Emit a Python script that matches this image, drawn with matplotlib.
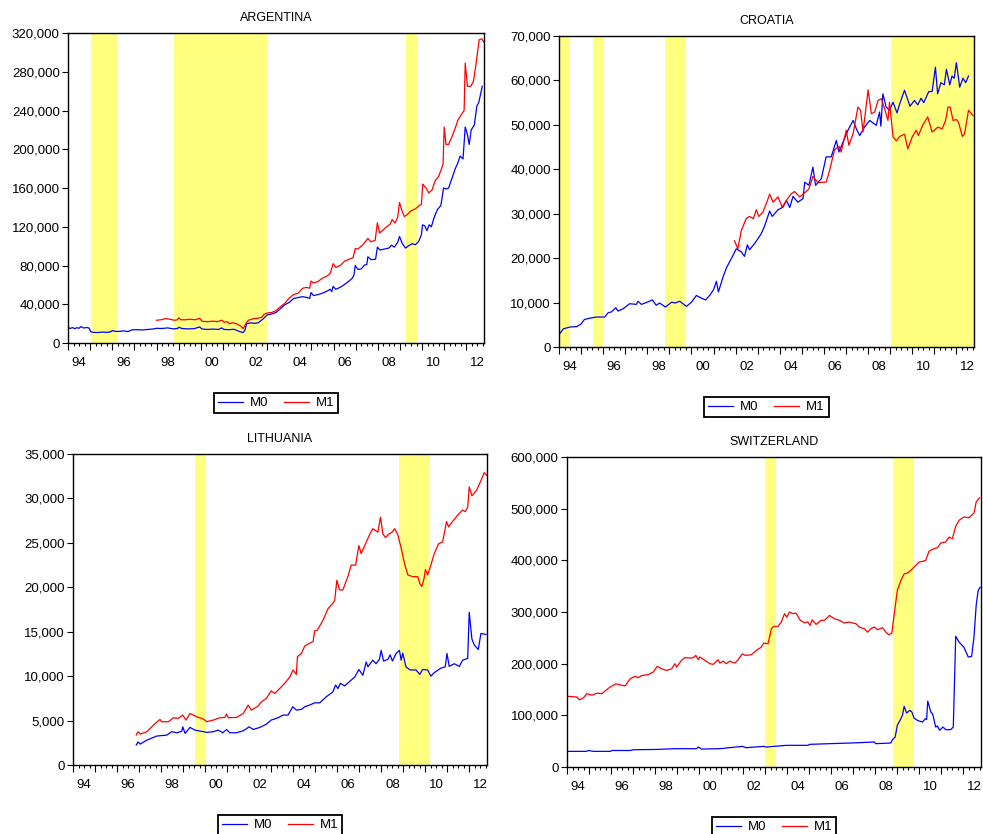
import numpy as np
import matplotlib.pyplot as plt
from matplotlib.ticker import FuncFormatter, MultipleLocator

plt.rcParams['font.family'] = ['Liberation Sans', 'DejaVu Sans']

# values in thousands, (year, value)
arg_m0 = [(1994.00, 16.0), (1994.10, 15.0), (1994.20, 16.0), (1994.30, 14.8), (1994.40, 15.8), (1994.50, 15.2),
          (1994.58, 17.0), (1994.70, 15.5), (1994.85, 16.0), (1994.95, 15.5), (1995.03, 11.5), (1995.15, 11.0),
          (1995.35, 10.8), (1995.55, 11.3), (1995.75, 11.0), (1995.92, 11.5), (1996.00, 12.8), (1996.15, 12.0),
          (1996.35, 12.0), (1996.50, 12.6), (1996.70, 11.8), (1996.90, 13.6), (1997.10, 13.8), (1997.35, 13.5),
          (1997.60, 14.0), (1997.85, 14.5), (1998.00, 15.2), (1998.25, 15.0), (1998.50, 15.6), (1998.75, 14.6),
          (1998.95, 15.0), (1999.00, 16.2), (1999.15, 15.0), (1999.40, 14.6), (1999.70, 14.8), (1999.95, 16.6),
          (2000.05, 14.5), (2000.30, 14.0), (2000.55, 14.4), (2000.80, 14.0), (2000.95, 15.6), (2001.05, 14.0),
          (2001.30, 13.8), (2001.50, 14.2), (2001.65, 12.8), (2001.80, 11.5), (2001.92, 10.8), (2002.00, 13.5),
          (2002.07, 20.0), (2002.25, 20.8), (2002.45, 20.3), (2002.60, 21.0), (2002.80, 24.5), (2003.00, 29.0),
          (2003.20, 30.0), (2003.40, 31.5), (2003.60, 35.5), (2003.80, 39.5), (2004.00, 42.0), (2004.20, 46.0),
          (2004.40, 47.0), (2004.60, 47.8), (2004.80, 47.0), (2004.92, 46.0), (2004.98, 52.0), (2005.10, 49.0),
          (2005.30, 50.0), (2005.50, 51.5), (2005.70, 53.5), (2005.85, 55.5), (2005.92, 53.0), (2005.98, 58.5),
          (2006.10, 55.5), (2006.30, 57.5), (2006.50, 60.5), (2006.70, 64.0), (2006.85, 67.0), (2006.92, 70.0),
          (2006.98, 80.0), (2007.10, 76.0), (2007.25, 76.5), (2007.40, 80.5), (2007.50, 81.0), (2007.55, 89.0),
          (2007.70, 86.0), (2007.90, 86.5), (2007.98, 99.0), (2008.10, 96.0), (2008.30, 97.0), (2008.50, 98.0),
          (2008.62, 101.0), (2008.75, 99.0), (2008.90, 104.0), (2008.98, 110.0), (2009.10, 103.0), (2009.25, 98.0),
          (2009.40, 100.5), (2009.55, 102.5), (2009.70, 101.5), (2009.85, 105.0), (2009.97, 112.0), (2010.02, 122.0),
          (2010.12, 121.0), (2010.22, 116.0), (2010.32, 122.0), (2010.42, 120.0), (2010.55, 130.0), (2010.70, 138.0),
          (2010.85, 142.0), (2010.97, 160.0), (2011.10, 159.0), (2011.20, 160.0), (2011.35, 170.0), (2011.50, 180.0),
          (2011.60, 185.0), (2011.72, 193.0), (2011.85, 190.0), (2011.95, 223.0), (2012.05, 215.0), (2012.13, 205.0),
          (2012.22, 220.0), (2012.36, 225.0), (2012.48, 245.0), (2012.56, 248.0), (2012.72, 265.0)]
arg_m1 = [(1998.00, 23.5), (1998.20, 24.0), (1998.40, 25.2), (1998.60, 24.6), (1998.80, 23.5), (1998.95, 24.0),
          (1999.00, 26.0), (1999.10, 24.0), (1999.30, 24.0), (1999.50, 24.6), (1999.75, 24.0), (1999.95, 25.6),
          (2000.05, 22.5), (2000.30, 22.0), (2000.55, 22.6), (2000.75, 22.0), (2000.95, 23.6), (2001.05, 21.5),
          (2001.20, 22.0), (2001.30, 19.8), (2001.45, 21.0), (2001.65, 19.5), (2001.80, 17.5), (2001.92, 15.0),
          (2002.05, 20.5), (2002.15, 23.5), (2002.35, 25.0), (2002.55, 25.5), (2002.75, 26.5), (2002.85, 29.5),
          (2003.00, 31.0), (2003.20, 31.5), (2003.40, 33.5), (2003.60, 37.5), (2003.80, 41.0), (2004.00, 46.5),
          (2004.20, 50.0), (2004.40, 51.5), (2004.60, 56.5), (2004.78, 57.5), (2004.92, 56.5), (2004.98, 64.0),
          (2005.10, 62.0), (2005.30, 63.5), (2005.50, 67.0), (2005.70, 69.0), (2005.85, 72.0), (2005.98, 82.0),
          (2006.10, 78.0), (2006.30, 80.0), (2006.50, 84.5), (2006.70, 86.5), (2006.88, 88.0), (2006.98, 97.5),
          (2007.10, 97.0), (2007.30, 101.0), (2007.45, 105.0), (2007.55, 108.0), (2007.68, 104.5), (2007.88, 106.0),
          (2007.98, 124.0), (2008.08, 113.5), (2008.25, 117.0), (2008.40, 120.0), (2008.55, 122.5), (2008.65, 127.5),
          (2008.78, 124.0), (2008.90, 130.0), (2008.98, 145.0), (2009.10, 136.0), (2009.20, 130.5), (2009.35, 133.0),
          (2009.50, 136.5), (2009.70, 138.5), (2009.88, 142.0), (2009.97, 143.0), (2010.03, 164.0), (2010.18, 160.0),
          (2010.30, 155.0), (2010.45, 158.0), (2010.60, 168.0), (2010.75, 172.0), (2010.88, 180.0), (2010.95, 185.0),
          (2011.00, 223.0), (2011.08, 205.0), (2011.20, 205.0), (2011.35, 213.0), (2011.50, 222.0), (2011.62, 230.0),
          (2011.75, 235.0), (2011.90, 240.0), (2011.95, 289.0), (2012.05, 265.0), (2012.20, 265.0), (2012.32, 270.0),
          (2012.45, 290.0), (2012.58, 313.0), (2012.70, 314.0), (2012.78, 311.0)]

cro_m0 = [(1994.03, 3.0), (1994.20, 4.1), (1994.50, 4.5), (1994.80, 4.6), (1995.00, 5.2), (1995.15, 6.2),
          (1995.40, 6.5), (1995.70, 6.75), (1996.07, 6.75), (1996.22, 7.7), (1996.37, 7.9), (1996.57, 8.85),
          (1996.67, 8.1), (1996.90, 8.6), (1997.20, 9.75), (1997.50, 9.6), (1997.58, 10.3), (1997.73, 9.6),
          (1997.95, 10.0), (1998.23, 10.6), (1998.40, 9.4), (1998.56, 9.9), (1998.82, 9.0), (1999.10, 10.1),
          (1999.25, 9.9), (1999.47, 10.3), (1999.77, 9.15), (2000.00, 10.1), (2000.22, 11.6), (2000.45, 11.0),
          (2000.64, 10.6), (2000.82, 11.6), (2001.00, 12.9), (2001.13, 14.8), (2001.22, 12.4), (2001.43, 15.8),
          (2001.60, 18.0), (2001.88, 20.6), (2002.03, 22.1), (2002.26, 21.4), (2002.40, 20.4), (2002.53, 23.0),
          (2002.63, 21.9), (2002.86, 23.3), (2003.16, 25.5), (2003.31, 27.2), (2003.54, 30.6), (2003.66, 29.4),
          (2003.92, 30.9), (2004.15, 31.5), (2004.30, 33.0), (2004.45, 31.4), (2004.60, 33.9), (2004.82, 32.6),
          (2005.05, 33.4), (2005.13, 37.1), (2005.32, 36.4), (2005.50, 40.5), (2005.62, 36.4), (2005.88, 37.9),
          (2006.10, 42.8), (2006.33, 42.8), (2006.56, 46.5), (2006.68, 43.9), (2006.86, 46.1), (2007.09, 48.8),
          (2007.32, 51.0), (2007.47, 49.1), (2007.62, 47.6), (2007.84, 49.5), (2008.07, 51.0), (2008.37, 49.9),
          (2008.52, 52.9), (2008.58, 49.7), (2008.67, 57.0), (2008.82, 54.0), (2008.97, 53.3), (2009.13, 55.1),
          (2009.31, 52.7), (2009.45, 55.0), (2009.65, 57.8), (2009.90, 54.2), (2010.10, 55.5), (2010.25, 54.5),
          (2010.40, 56.0), (2010.52, 55.0), (2010.75, 57.5), (2010.90, 57.5), (2011.05, 63.0), (2011.15, 57.0),
          (2011.30, 59.5), (2011.45, 59.0), (2011.55, 62.5), (2011.70, 59.0), (2011.80, 61.0), (2011.90, 60.5),
          (2012.00, 64.0), (2012.15, 58.5), (2012.30, 60.5), (2012.42, 59.5), (2012.55, 61.0)]
cro_m1 = [(2001.95, 23.9), (2002.10, 22.1), (2002.26, 26.3), (2002.48, 28.9), (2002.62, 29.4), (2002.80, 28.9),
          (2002.94, 30.9), (2003.05, 29.4), (2003.24, 30.4), (2003.39, 32.3), (2003.54, 34.4), (2003.70, 32.6),
          (2003.92, 33.8), (2004.11, 31.5), (2004.30, 33.0), (2004.52, 34.5), (2004.67, 35.0), (2004.90, 33.8),
          (2005.13, 34.7), (2005.32, 35.6), (2005.50, 38.4), (2005.73, 37.0), (2005.96, 37.1), (2006.10, 37.1),
          (2006.26, 39.8), (2006.48, 44.4), (2006.68, 45.2), (2006.78, 43.9), (2007.01, 48.8), (2007.13, 45.4),
          (2007.32, 48.0), (2007.54, 54.0), (2007.66, 53.3), (2007.77, 48.4), (2007.89, 53.3), (2008.00, 57.9),
          (2008.15, 52.5), (2008.30, 52.9), (2008.45, 55.5), (2008.60, 55.9), (2008.75, 53.6), (2008.90, 51.0),
          (2008.97, 55.1), (2009.13, 47.3), (2009.28, 46.4), (2009.43, 47.4), (2009.65, 47.9), (2009.80, 44.6),
          (2010.00, 47.3), (2010.18, 48.8), (2010.28, 47.6), (2010.47, 49.9), (2010.70, 51.8), (2010.90, 48.4),
          (2011.16, 49.5), (2011.36, 49.1), (2011.51, 51.0), (2011.62, 54.0), (2011.72, 54.0), (2011.85, 51.0),
          (2012.00, 51.2), (2012.10, 50.5), (2012.27, 47.4), (2012.37, 48.0), (2012.55, 53.3), (2012.75, 52.1)]

lit_m0 = [(1996.87, 2.25), (1996.95, 2.6), (1997.05, 2.36), (1997.35, 2.8), (1997.80, 3.26), (1998.26, 3.37),
          (1998.48, 3.75), (1998.71, 3.63), (1998.94, 3.8), (1998.98, 4.3), (1999.09, 3.56), (1999.31, 4.23),
          (1999.54, 3.93), (1999.92, 3.75), (2000.07, 3.67), (2000.37, 3.75), (2000.60, 3.93), (2000.80, 3.63),
          (2000.97, 4.0), (2001.12, 3.63), (2001.42, 3.63), (2001.73, 3.86), (2002.00, 4.3), (2002.18, 4.0),
          (2002.48, 4.23), (2002.78, 4.6), (2003.00, 5.06), (2003.31, 5.32), (2003.53, 5.62), (2003.76, 5.62),
          (2003.98, 6.56), (2004.14, 6.18), (2004.37, 6.26), (2004.52, 6.56), (2004.74, 6.74), (2004.97, 7.0),
          (2005.20, 7.0), (2005.50, 7.68), (2005.80, 8.24), (2005.92, 9.0), (2006.03, 8.6), (2006.14, 9.2),
          (2006.33, 8.9), (2006.56, 9.4), (2006.79, 9.9), (2006.98, 10.75), (2007.16, 10.1), (2007.31, 11.6),
          (2007.39, 11.05), (2007.61, 11.8), (2007.76, 11.4), (2007.91, 11.9), (2007.99, 12.9), (2008.10, 11.7),
          (2008.30, 11.9), (2008.40, 12.4), (2008.50, 11.7), (2008.67, 12.55), (2008.82, 12.9), (2008.90, 11.8),
          (2008.97, 12.6), (2009.12, 11.05), (2009.30, 10.7), (2009.57, 10.7), (2009.75, 10.2), (2009.87, 10.75),
          (2010.10, 10.7), (2010.25, 10.0), (2010.40, 10.4), (2010.70, 10.9), (2010.90, 11.05), (2010.98, 12.55),
          (2011.08, 11.1), (2011.31, 11.4), (2011.54, 11.1), (2011.69, 11.8), (2011.92, 12.0), (2011.99, 17.2),
          (2012.11, 14.2), (2012.22, 13.5), (2012.40, 13.0), (2012.52, 14.8), (2012.75, 14.7)]
lit_m1 = [(1996.87, 3.37), (1996.95, 3.75), (1997.05, 3.48), (1997.35, 3.75), (1997.73, 4.68), (1997.95, 5.13),
          (1998.02, 4.87), (1998.33, 4.87), (1998.56, 5.32), (1998.78, 5.25), (1998.98, 5.62), (1999.13, 5.06),
          (1999.31, 5.8), (1999.61, 5.43), (1999.84, 5.25), (1999.95, 5.13), (2000.07, 4.87), (2000.37, 5.06),
          (2000.67, 5.32), (2000.90, 5.36), (2000.97, 5.73), (2001.05, 5.32), (2001.42, 5.36), (2001.73, 5.8),
          (2001.95, 6.74), (2002.10, 6.18), (2002.40, 6.63), (2002.55, 7.1), (2002.78, 7.5), (2003.00, 8.35),
          (2003.16, 8.06), (2003.38, 8.6), (2003.61, 9.2), (2003.84, 9.9), (2003.99, 10.7), (2004.14, 10.2),
          (2004.19, 12.2), (2004.37, 12.55), (2004.52, 13.4), (2004.74, 13.7), (2004.90, 13.9), (2004.97, 15.1),
          (2005.10, 15.2), (2005.35, 16.3), (2005.58, 17.6), (2005.80, 18.2), (2005.88, 18.5), (2005.98, 20.8),
          (2006.10, 19.7), (2006.25, 19.7), (2006.48, 21.2), (2006.63, 22.5), (2006.83, 22.5), (2006.98, 24.7),
          (2007.08, 23.8), (2007.28, 24.9), (2007.46, 25.9), (2007.61, 26.6), (2007.84, 26.2), (2007.96, 27.9),
          (2008.07, 26.0), (2008.19, 25.6), (2008.34, 26.0), (2008.49, 26.2), (2008.60, 26.6), (2008.75, 25.9),
          (2008.90, 24.4), (2009.05, 22.7), (2009.20, 21.4), (2009.42, 21.2), (2009.65, 21.2), (2009.75, 20.4),
          (2009.84, 20.1), (2009.94, 21.0), (2010.00, 22.0), (2010.10, 21.4), (2010.25, 22.5), (2010.40, 23.8),
          (2010.60, 24.9), (2010.78, 25.1), (2010.96, 27.4), (2011.05, 26.8), (2011.23, 27.4), (2011.46, 28.1),
          (2011.69, 28.7), (2011.80, 28.5), (2011.92, 29.0), (2011.99, 31.3), (2012.11, 30.3), (2012.32, 30.9),
          (2012.52, 32.0), (2012.67, 32.9), (2012.78, 32.6)]

swi_m0 = [(1994.00, 30.3), (1994.87, 30.3), (1994.98, 32.0), (1995.20, 30.3), (1995.96, 30.3), (1996.05, 32.0),
          (1996.87, 32.0), (1997.02, 33.5), (1998.05, 34.0), (1998.90, 35.5), (1999.88, 35.5), (1999.96, 38.7),
          (2000.11, 34.8), (2000.90, 35.5), (2001.06, 36.0), (2001.96, 40.0), (2002.14, 37.4), (2002.93, 40.0),
          (2003.05, 38.7), (2003.96, 42.0), (2004.94, 42.0), (2005.02, 43.9), (2005.92, 45.2), (2006.90, 46.5),
          (2007.95, 48.4), (2008.02, 45.2), (2008.70, 46.5), (2008.78, 52.9), (2008.90, 58.0), (2009.00, 80.6),
          (2009.16, 93.5), (2009.23, 100.0), (2009.31, 117.4), (2009.42, 104.5), (2009.57, 109.7), (2009.66, 106.5),
          (2009.76, 94.8), (2009.91, 90.3), (2010.14, 87.0), (2010.27, 93.5), (2010.33, 92.0), (2010.38, 127.7),
          (2010.52, 106.5), (2010.60, 103.0), (2010.74, 77.4), (2010.82, 79.4), (2010.92, 71.0), (2011.07, 77.4),
          (2011.20, 72.3), (2011.42, 72.3), (2011.54, 77.4), (2011.65, 253.0), (2011.80, 242.0), (2012.02, 232.0),
          (2012.22, 213.0), (2012.37, 214.0), (2012.48, 251.6), (2012.58, 313.0), (2012.67, 342.0), (2012.76, 348.0)]
swi_m1 = [(1994.00, 137.0), (1994.45, 135.5), (1994.57, 130.0), (1994.75, 134.0), (1994.90, 142.0), (1995.13, 139.0),
          (1995.36, 143.0), (1995.58, 142.0), (1995.81, 150.0), (1995.96, 155.0), (1996.23, 161.0), (1996.49, 158.0),
          (1996.64, 157.0), (1996.87, 171.0), (1997.09, 175.5), (1997.24, 173.0), (1997.39, 177.0), (1997.70, 179.0),
          (1997.92, 184.0), (1998.10, 195.0), (1998.30, 190.0), (1998.52, 187.0), (1998.75, 190.0), (1998.90, 200.0),
          (1998.98, 193.5), (1999.20, 206.5), (1999.35, 211.6), (1999.58, 211.0), (1999.73, 211.6), (1999.85, 216.0),
          (1999.96, 207.7), (2000.03, 213.0), (2000.26, 206.5), (2000.49, 200.0), (2000.64, 198.7), (2000.86, 207.7),
          (2000.94, 201.0), (2001.09, 205.0), (2001.24, 200.0), (2001.39, 205.0), (2001.62, 201.0), (2001.77, 207.7),
          (2001.96, 219.0), (2002.11, 216.0), (2002.37, 217.4), (2002.60, 225.8), (2002.82, 232.0), (2002.93, 240.0),
          (2003.13, 238.7), (2003.28, 267.7), (2003.38, 272.0), (2003.58, 272.0), (2003.73, 280.6), (2003.88, 296.8),
          (2003.98, 290.0), (2004.10, 300.0), (2004.26, 296.8), (2004.40, 298.0), (2004.59, 284.0), (2004.78, 279.4),
          (2004.94, 280.6), (2005.04, 274.0), (2005.13, 285.0), (2005.31, 276.0), (2005.54, 284.0), (2005.69, 284.0),
          (2005.84, 290.0), (2005.92, 293.5), (2006.14, 287.0), (2006.37, 284.0), (2006.59, 278.7), (2006.82, 280.6),
          (2006.97, 278.7), (2007.12, 277.4), (2007.27, 271.0), (2007.50, 267.7), (2007.65, 261.0), (2007.80, 267.7),
          (2007.95, 271.0), (2008.10, 265.8), (2008.33, 269.7), (2008.48, 261.0), (2008.60, 256.0), (2008.75, 259.0),
          (2008.86, 296.8), (2009.00, 342.0), (2009.16, 361.0), (2009.31, 374.0), (2009.46, 375.5), (2009.61, 380.6),
          (2009.76, 387.0), (2009.99, 396.8), (2010.14, 398.0), (2010.29, 400.0), (2010.44, 418.0), (2010.67, 422.6),
          (2010.82, 424.5), (2010.97, 433.5), (2011.19, 435.5), (2011.35, 445.0), (2011.50, 442.0), (2011.65, 466.0),
          (2011.80, 477.4), (2012.02, 484.0), (2012.25, 482.6), (2012.48, 491.6), (2012.58, 513.0), (2012.73, 521.0)]

# shaded periods
arg_bands = [(1995.03, 1996.23), (1998.78, 2003.0), (2009.29, 2009.76)]
cro_bands = [(1994.0, 1994.5), (1995.54, 1996.03), (1998.78, 1999.76), (2009.05, 2012.8)]
lit_bands = [(1999.53, 2000.02), (2008.79, 2010.23)]
swi_bands = [(2003.0, 2003.48), (2008.79, 2009.74)]

year_labels = ['94', '96', '98', '00', '02', '04', '06', '08', '10', '12']
label_pos = [1994.5, 1996.5, 1998.5, 2000.5, 2002.5, 2004.5, 2006.5, 2008.5, 2010.5, 2012.5]

fig = plt.figure(figsize=(9.83, 8.34), dpi=100)


def panel(rect, title, m0, m1, bands, ymax, ystep):
    ax = fig.add_axes(rect)
    for a, b in bands:
        ax.axvspan(a, b, color='#FFFF80', lw=0, zorder=0)
    t0, v0 = np.array(m0).T
    t1, v1 = np.array(m1).T
    ax.plot(t0, v0 * 1000, color='#0000FF', lw=0.9, label='M0')
    ax.plot(t1, v1 * 1000, color='#FF0000', lw=0.9, label='M1')
    ax.set_xlim(1994.0, 2012.8)
    ax.set_ylim(0, ymax)
    ax.yaxis.set_major_locator(MultipleLocator(ystep))
    ax.yaxis.set_major_formatter(FuncFormatter(lambda v, p: f'{v:,.0f}'))
    ax.set_xticks(np.arange(1994, 2013))
    ax.set_xticklabels([])
    ax.xaxis.set_minor_locator(MultipleLocator(0.25))
    ax.tick_params(axis='x', which='major', length=5, width=0.8)
    ax.tick_params(axis='x', which='minor', length=2.5, width=0.8)
    ax.tick_params(axis='y', length=4, width=0.8, pad=2, labelsize=9.5)
    for s in ax.spines.values():
        s.set_linewidth(1.0)
    sec = ax.secondary_xaxis('bottom')
    sec.set_xticks(label_pos, labels=year_labels)
    sec.tick_params(length=0, pad=10, labelsize=9.5)
    sec.spines['bottom'].set_visible(False)
    ax.set_title(title, fontsize=9, pad=9)
    leg = ax.legend(loc='upper center', bbox_to_anchor=(0.5, -0.14), ncol=2, fontsize=9.5,
                    frameon=True, fancybox=False, edgecolor='black', framealpha=1,
                    handlelength=1.9, handletextpad=0.5, columnspacing=1.2, borderpad=0.3)
    leg.get_frame().set_linewidth(1.3)
    return ax


panel([0.0692, 0.5887, 0.4232, 0.3717], 'ARGENTINA', arg_m0, arg_m1, arg_bands, 320000, 40000)
panel([0.5687, 0.5839, 0.4222, 0.3729], 'CROATIA', cro_m0, cro_m1, cro_bands, 70000, 10000)
panel([0.0743, 0.0827, 0.4212, 0.3729], 'LITHUANIA', lit_m0, lit_m1, lit_bands, 35000, 5000)
panel([0.5768, 0.0803, 0.4212, 0.3717], 'SWITZERLAND', swi_m0, swi_m1, swi_bands, 600000, 100000)

fig.savefig('out.png', dpi=100)
